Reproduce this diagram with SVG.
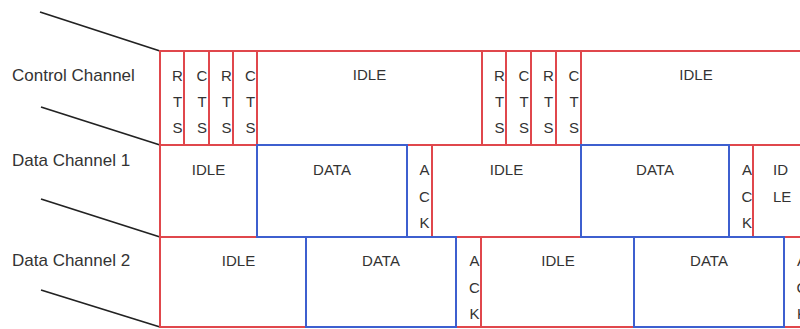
<svg xmlns="http://www.w3.org/2000/svg" width="800" height="329" viewBox="0 0 800 329">
<style>
.r{fill:#fff;stroke:#e0474c;stroke-width:2}
.b{fill:none;stroke:#3d5fcf;stroke-width:2}
.t{font-family:"Liberation Sans",Arial,sans-serif;font-size:15px;fill:#333;text-anchor:middle}
.ts{font-family:"Liberation Sans",Arial,sans-serif;font-size:15px;fill:#333}
.lb{font-family:"Liberation Sans",Arial,sans-serif;font-size:17px;fill:#333}
.c{stroke:#222;stroke-width:1.8;fill:none}
</style>
<rect width="800" height="329" fill="#fff"/>
<g id="connectors">
<line class="c" x1="40" y1="12" x2="160" y2="51"/>
<line class="c" x1="41" y1="107" x2="160" y2="145"/>
<line class="c" x1="41" y1="199" x2="160" y2="237"/>
<line class="c" x1="41" y1="290" x2="160" y2="327"/>
</g>
<g id="labels">
<text class="lb" x="12" y="81">Control Channel</text>
<text class="lb" x="12" y="166">Data Channel 1</text>
<text class="lb" x="12" y="266">Data Channel 2</text>
</g>
<!-- Control channel -->
<g id="c-rts1"><rect class="r" x="160" y="51" width="24" height="94"/><text class="t" x="177.5" y="81">R</text><text class="t" x="177.5" y="107">T</text><text class="t" x="177.5" y="133">S</text></g>
<g id="c-cts1"><rect class="r" x="184" y="51" width="25" height="94"/><text class="t" x="202" y="81">C</text><text class="t" x="202" y="107">T</text><text class="t" x="202" y="133">S</text></g>
<g id="c-rts2"><rect class="r" x="209" y="51" width="24" height="94"/><text class="t" x="226.5" y="81">R</text><text class="t" x="226.5" y="107">T</text><text class="t" x="226.5" y="133">S</text></g>
<g id="c-cts2"><rect class="r" x="233" y="51" width="24" height="94"/><text class="t" x="250.5" y="81">C</text><text class="t" x="250.5" y="107">T</text><text class="t" x="250.5" y="133">S</text></g>
<g id="c-idle1"><rect class="r" x="257" y="51" width="225" height="94"/><text class="t" x="369.5" y="80">IDLE</text></g>
<g id="c-rts3"><rect class="r" x="482" y="51" width="24" height="94"/><text class="t" x="499.5" y="81">R</text><text class="t" x="499.5" y="107">T</text><text class="t" x="499.5" y="133">S</text></g>
<g id="c-cts3"><rect class="r" x="506" y="51" width="25" height="94"/><text class="t" x="524" y="81">C</text><text class="t" x="524" y="107">T</text><text class="t" x="524" y="133">S</text></g>
<g id="c-rts4"><rect class="r" x="531" y="51" width="25" height="94"/><text class="t" x="548.5" y="81">R</text><text class="t" x="548.5" y="107">T</text><text class="t" x="548.5" y="133">S</text></g>
<g id="c-cts4"><rect class="r" x="556" y="51" width="25" height="94"/><text class="t" x="574" y="81">C</text><text class="t" x="574" y="107">T</text><text class="t" x="574" y="133">S</text></g>
<g id="c-idle2"><rect class="r" x="581" y="51" width="250" height="94"/><text class="t" x="696" y="80">IDLE</text></g>
<!-- Data channel 1 -->
<g id="d1-idle1"><rect class="r" x="160" y="145" width="97" height="92"/><text class="t" x="208.5" y="175">IDLE</text></g>
<g id="d1-ack1"><rect class="r" x="407" y="145" width="25" height="92"/><text class="t" x="424.5" y="175">A</text><text class="t" x="424.5" y="202">C</text><text class="t" x="424.5" y="228">K</text></g>
<g id="d1-idle2"><rect class="r" x="432" y="145" width="149" height="92"/><text class="t" x="506.5" y="175">IDLE</text></g>
<g id="d1-ack2"><rect class="r" x="729" y="145" width="24" height="92"/><text class="t" x="747" y="175">A</text><text class="t" x="747" y="202">C</text><text class="t" x="747" y="228">K</text></g>
<g id="d1-idle3"><rect class="r" x="753" y="145" width="80" height="92"/><text class="ts" x="773" y="175">ID</text><text class="ts" x="773" y="202">LE</text></g>
<!-- Data channel 2 -->
<g id="d2-idle1"><rect class="r" x="160" y="237" width="146" height="90"/><text class="t" x="238.5" y="266">IDLE</text></g>
<g id="d2-ack1"><rect class="r" x="456" y="237" width="25" height="90"/><text class="t" x="474.5" y="266">A</text><text class="t" x="474.5" y="293">C</text><text class="t" x="474.5" y="319">K</text></g>
<g id="d2-idle2"><rect class="r" x="481" y="237" width="153" height="90"/><text class="t" x="558" y="266">IDLE</text></g>
<g id="d2-ack2"><rect class="r" x="784" y="237" width="50" height="90"/><text class="t" x="802" y="266">A</text><text class="t" x="802" y="293">C</text><text class="t" x="802" y="319">K</text></g>
<!-- DATA boxes (blue) -->
<g id="d1-data1"><rect class="b" x="257" y="145" width="150" height="92"/><text class="t" x="332" y="175">DATA</text></g>
<g id="d1-data2"><rect class="b" x="581" y="145" width="148" height="92"/><text class="t" x="655" y="175">DATA</text></g>
<g id="d2-data1"><rect class="b" x="306" y="237" width="150" height="90"/><text class="t" x="381" y="266">DATA</text></g>
<g id="d2-data2"><rect class="b" x="634" y="237" width="150" height="90"/><text class="t" x="709" y="266">DATA</text></g>
</svg>
